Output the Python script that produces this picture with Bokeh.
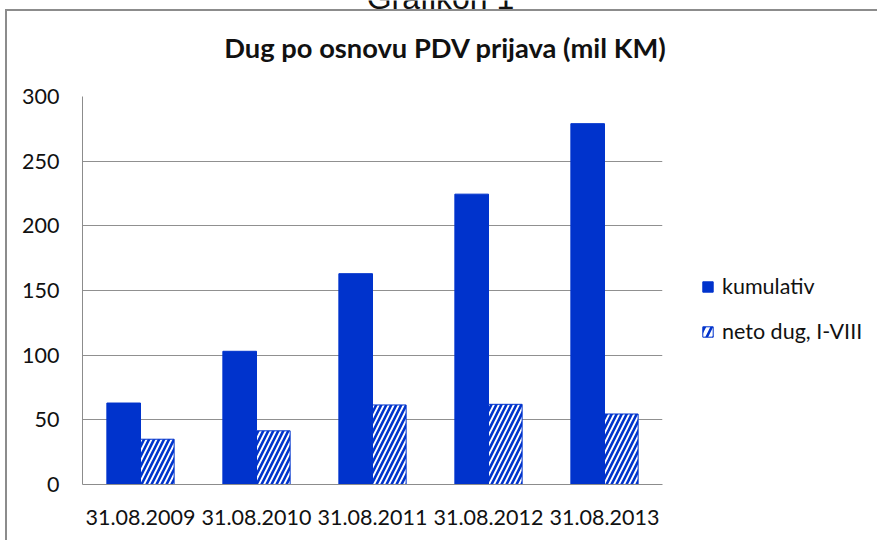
from bokeh.plotting import figure
from bokeh.layouts import column, row
from bokeh.models import (FactorRange, Range1d, LinearAxis, CategoricalAxis, FixedTicker,
                          Label, Legend, LegendItem, ColumnDataSource, Grid)
from bokeh.transform import dodge
from bokeh.embed import file_html
from bokeh.resources import INLINE

# ---- data ----
categories = ["31.08.2009", "31.08.2010", "31.08.2011", "31.08.2012", "31.08.2013"]
kumulativ = [63, 103, 163, 224.5, 279]
neto_dug = [35, 41.5, 61.5, 62, 54.5]
y_ticks = [0, 50, 100, 150, 200, 250, 300]
series_names = ["kumulativ", "neto dug, I-VIII"]
title_text = "Dug po osnovu PDV prijava (mil KM)"
caption_text = "Grafikon 1"

BLUE = "#0033CC"
GRAY = "#8c8c8c"
FONT = "Lato"
TXT = "#111111"

W, H = 877, 540
TOP_H = 70
MAIN_W = 680
FRAME_TOP, FRAME_BOTTOM = 96, 484   # plot-area edges on the page


def bare(fig):
    fig.outline_line_color = None
    fig.border_fill_color = None
    for g in fig.grid:
        g.visible = False
    return fig


def blank_fig(width, height, xr, yr):
    return bare(figure(width=width, height=height, x_range=xr, y_range=yr,
                       output_backend="svg", toolbar_location=None,
                       x_axis_location=None, y_axis_location=None,
                       min_border_left=0, min_border_right=0,
                       min_border_top=0, min_border_bottom=0))


# ---------- top strip: caption (cut by the page edge, as in the source) + chart title ----------
top = blank_fig(W, TOP_H, Range1d(0, W), Range1d(TOP_H, 0))
top.background_fill_color = None
top.styles = {"box-shadow": "inset 5px 0 0 0 #ffffff, inset 0 9px 0 0 #ffffff, "
                            "inset 7px 0 0 0 #8c8c8c, inset 0 11px 0 0 #8c8c8c"}
top.add_layout(Label(x=440, y=-3, text=caption_text, text_align="center",
                     text_baseline="middle", text_font="Liberation Sans",
                     text_font_size="32px", text_color=TXT))
top.add_layout(Label(x=445, y=46.5, text=title_text, text_align="center",
                     text_baseline="middle", text_font=FONT, text_font_style="bold",
                     text_font_size="27.3px", text_color=TXT))

# ---------- main chart ----------
src = ColumnDataSource(dict(cat=categories, kum=kumulativ, neto=neto_dug))
p = bare(figure(width=MAIN_W, height=H - TOP_H,
                x_range=FactorRange(factors=categories, range_padding=0, factor_padding=0),
                y_range=Range1d(0, 300),
                output_backend="svg", toolbar_location=None,
                x_axis_location=None, y_axis_location=None,
                min_border_left=82, min_border_right=MAIN_W - 662,
                min_border_top=FRAME_TOP - TOP_H,
                min_border_bottom=H - FRAME_BOTTOM))
p.background_fill_color = "white"
p.styles = {"box-shadow": "inset 5px 0 0 0 #ffffff, inset 7px 0 0 0 #8c8c8c"}

yaxis = LinearAxis(ticker=FixedTicker(ticks=y_ticks))
yaxis.axis_line_color = GRAY
yaxis.major_tick_line_color = None
yaxis.minor_tick_line_color = None
yaxis.major_tick_in = 0
yaxis.major_tick_out = 0
yaxis.major_label_standoff = 23
yaxis.major_label_text_font = FONT
yaxis.major_label_text_font_size = "21.5px"
yaxis.major_label_text_color = TXT
p.add_layout(yaxis, "left")

xaxis = CategoricalAxis()
xaxis.axis_line_color = GRAY
xaxis.major_tick_line_color = None
xaxis.minor_tick_line_color = None
xaxis.major_tick_in = 0
xaxis.major_tick_out = 0
xaxis.major_label_standoff = 25
xaxis.major_label_text_font = FONT
xaxis.major_label_text_font_size = "21.5px"
xaxis.major_label_text_color = TXT
p.add_layout(xaxis, "below")

p.add_layout(Grid(dimension=1, ticker=FixedTicker(ticks=y_ticks),
                  grid_line_color="#909090", grid_line_width=1))

HATCH = dict(hatch_pattern="/", hatch_color=BLUE, hatch_scale=10, hatch_weight=2.6)
r1 = p.vbar(x=dodge("cat", -0.145, range=p.x_range), top="kum", width=0.29, source=src,
            fill_color=BLUE, line_color=BLUE)
r2 = p.vbar(x=dodge("cat", 0.145, range=p.x_range), top="neto", width=0.29, source=src,
            fill_color="white", line_color=BLUE, **HATCH)

# ---------- legend area (its plot frame is aligned with the chart's frame by the row) ----------
LEG_W = W - MAIN_W
# ranges chosen so that the swatch renderers' bars lie entirely outside this panel
leg = blank_fig(LEG_W, H - TOP_H, Range1d(0, 1), Range1d(1000, 1001))
leg.background_fill_color = None
g1 = leg.vbar(x="kum", top="kum", width=0.29, source=src, fill_color=BLUE, line_color=BLUE)
g2 = leg.vbar(x="neto", top="neto", width=0.29, source=src, fill_color="white",
              line_color=BLUE, hatch_pattern="/", hatch_color=BLUE,
              hatch_scale=14, hatch_weight=2.6)
legend = Legend(items=[LegendItem(label=series_names[0], renderers=[g1]),
                       LegendItem(label=series_names[1], renderers=[g2])],
                location=(701 - MAIN_W, FRAME_BOTTOM - 344), padding=0, margin=0, spacing=19,
                glyph_width=13, glyph_height=13, label_standoff=8,
                label_text_font=FONT, label_text_font_size="21.5px",
                label_text_color=TXT,
                border_line_color=None, background_fill_alpha=0)
leg.add_layout(legend)

layout = column(top, row(p, leg, spacing=0), spacing=0)
open("out.html", "w").write(file_html(layout, INLINE))
